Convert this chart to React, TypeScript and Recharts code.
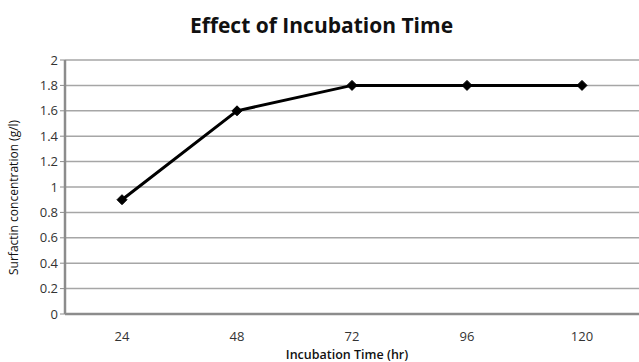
import React from 'react';
import { LineChart, Line, XAxis, YAxis, CartesianGrid } from 'recharts';

const categories = ['24', '48', '72', '96', '120'];
const surfactin = [0.9, 1.6, 1.8, 1.8, 1.8];
const yTicks = [0, 0.2, 0.4, 0.6, 0.8, 1, 1.2, 1.4, 1.6, 1.8, 2];

const data = categories.map((c, i) => ({ time: c, value: surfactin[i] }));

const FONT = '"Open Sans", "Liberation Sans", sans-serif';

const Diamond = (props: any) => {
  const { cx, cy } = props;
  if (cx == null || cy == null) return null;
  const r = 5;
  return (
    <polygon
      points={`${cx},${cy - r} ${cx + r},${cy} ${cx},${cy + r} ${cx - r},${cy}`}
      fill="#000"
      stroke="#000"
    />
  );
};

export default function App() {
  return (
    <div style={{ position: 'absolute', left: 0, top: 0, width: 639, height: 362, background: '#fff', fontFamily: FONT }}>
      <div
        style={{
          position: 'absolute',
          left: 0,
          top: 11,
          width: 643,
          textAlign: 'center',
          fontSize: 21,
          fontWeight: 700,
          color: '#111',
          fontFamily: FONT,
        }}
      >
        Effect of Incubation Time
      </div>
      <LineChart
        width={639}
        height={362}
        data={data}
        margin={{ top: 60, right: 0, bottom: 0, left: 0 }}
      >
        <CartesianGrid vertical={false} stroke="#a6a6a6" strokeWidth={1.5} />
        <XAxis
          dataKey="time"
          height={48}
          padding={{ left: 57, right: 57 }}
          tickLine={false}
          axisLine={{ stroke: '#8c8c8c', strokeWidth: 2.5 }}
          tick={{ fill: '#333', fontSize: 13, fontFamily: FONT }}
          tickMargin={12}
          label={{ value: 'Incubation Time (hr)', position: 'insideBottom', offset: 3, dx: -5, fill: '#111', fontSize: 12.5, fontWeight: 600, fontFamily: FONT }}
        />
        <YAxis
          width={65}
          domain={[0, 2]}
          ticks={yTicks}
          interval={0}
          tickLine={{ stroke: '#8c8c8c' }}
          tickSize={5}
          axisLine={{ stroke: '#8c8c8c', strokeWidth: 2.5 }}
          tick={{ fill: '#333', fontSize: 13, fontFamily: FONT }}
          label={{ value: 'Surfactin concentration (g/l)', angle: -90, position: 'insideLeft', offset: 14, dy: 88, fill: '#111', fontSize: 12, fontFamily: FONT }}
        />
        <Line
          type="linear"
          dataKey="value"
          stroke="#000"
          strokeWidth={3}
          dot={<Diamond />}
          activeDot={false}
          isAnimationActive={false}
        />
      </LineChart>
    </div>
  );
}
